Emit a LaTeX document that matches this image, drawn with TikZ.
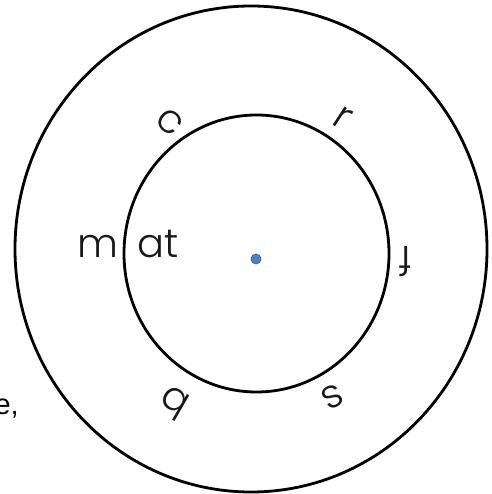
\documentclass[tikz,border=0pt]{standalone}
\usepackage{fontspec}
\newfontfamily\gothic{Poppins Light}
\newfontfamily\arialfont{Liberation Sans}
\definecolor{dotblue}{HTML}{4F81BD}
\definecolor{dotedge}{HTML}{3A68A0}
\begin{document}
\begin{tikzpicture}[x=1pt,y=-1pt,
  ring/.style={draw=black,line width=2.8pt},
  letter/.style={font=\gothic\fontsize{40}{40}\selectfont,inner sep=0pt,text=black!90}]
\useasboundingbox (0,0) rectangle (491,494);
\fill[white] (0,0) rectangle (491,494);
\draw[ring] (251,249) ellipse [x radius=236, y radius=243];
\draw[ring] (256.5,253.5) ellipse [x radius=132.5, y radius=138.5];
\node[circle,fill=dotblue,draw=dotedge,line width=0.8pt,minimum size=10pt,inner sep=0pt] (dot) at (256,259) {};
\node[letter,anchor=base] (m) at (98,257) {m};
\node[letter,anchor=base] (at) at (158,257) {at};
\node[letter,rotate=-40] (c) at (170,122) {c};
\node[letter,rotate=-33] (r) at (343,118) {r};
\node[letter,rotate=180] (f) at (405,262) {f};
\node[letter,rotate=150] (b) at (173,403) {b};
\node[letter,rotate=-152] (s) at (333,397) {s};
\node[font=\arialfont\fontsize{29}{29}\selectfont,anchor=base east,inner sep=0pt] (e) at (19,414) {e,};
\end{tikzpicture}
\end{document}
